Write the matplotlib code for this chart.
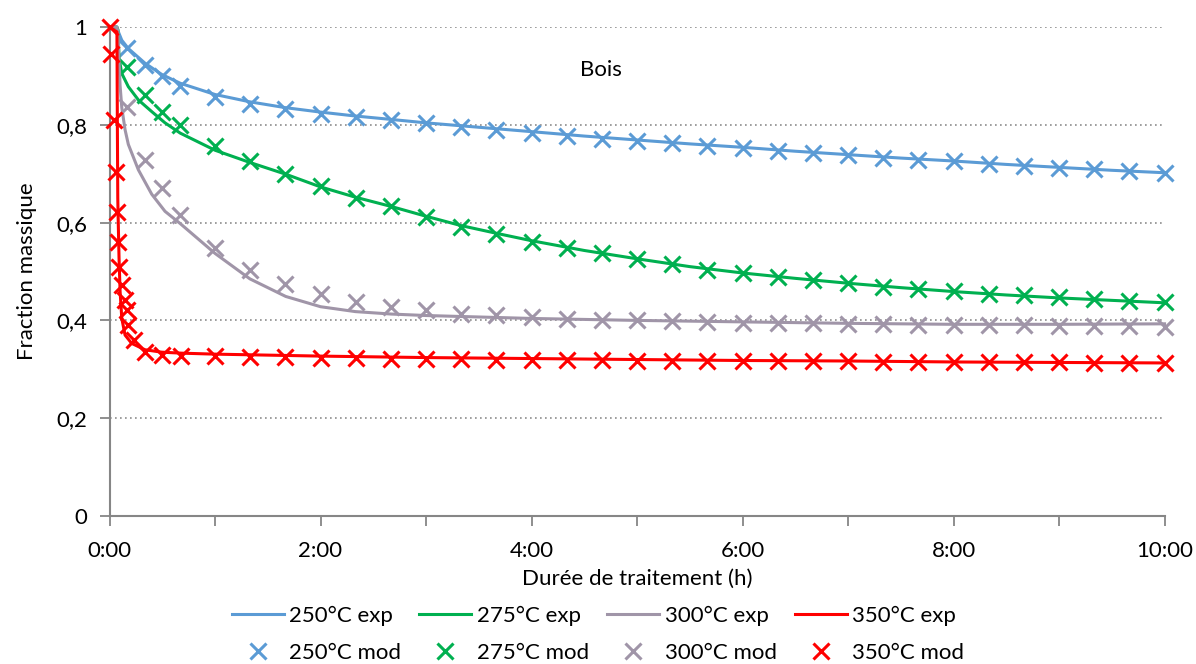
import matplotlib
matplotlib.use("Agg")
import matplotlib.pyplot as plt

plt.rcParams['font.family'] = ['Lato', 'DejaVu Sans']

# --- data (time in hours, mass fraction) ---
# "exp" curves
t_250_exp = [0, 0.065, 0.116, 0.178, 0.336, 0.495, 0.67, 1.0, 1.33, 1.67, 2.0, 2.33, 2.67, 3.0,
             3.5, 4.0, 4.5, 5.0, 5.5, 6.0, 6.5, 7.0, 7.5, 8.0, 8.5, 9.0, 9.5, 10.0]
y_250_exp = [1.0, 1.0, 0.973, 0.956, 0.926, 0.903, 0.885, 0.862, 0.847, 0.835, 0.826, 0.818, 0.811, 0.804,
             0.795, 0.786, 0.777, 0.769, 0.761, 0.754, 0.746, 0.739, 0.732, 0.726, 0.719, 0.713, 0.707, 0.702]

t_275_exp = [0, 0.07, 0.08, 0.09, 0.116, 0.178, 0.273, 0.40, 0.526, 0.67, 1.0, 1.33, 1.67, 2.0, 2.33, 2.67,
             3.0, 3.33, 3.67, 4.0, 4.5, 5.0, 5.5, 6.0, 6.5, 7.0, 7.5, 8.0, 8.5, 9.0, 9.5, 10.0]
y_275_exp = [1.0, 1.0, 0.994, 0.936, 0.905, 0.878, 0.851, 0.827, 0.804, 0.783, 0.748, 0.723, 0.699, 0.673, 0.652, 0.633,
             0.613, 0.594, 0.578, 0.563, 0.543, 0.526, 0.510, 0.497, 0.486, 0.476, 0.467, 0.459, 0.452, 0.446, 0.441, 0.436]

t_300_exp = [0, 0.07, 0.08, 0.09, 0.10, 0.116, 0.147, 0.178, 0.273, 0.40, 0.526, 0.67, 1.0, 1.33, 1.67, 2.0,
             2.33, 2.67, 3.0, 3.5, 4.0, 5.0, 6.0, 7.0, 8.0, 9.0, 10.0]
y_300_exp = [1.0, 1.0, 0.99, 0.93, 0.88, 0.835, 0.79, 0.76, 0.708, 0.658, 0.623, 0.598, 0.537, 0.485, 0.449, 0.428,
             0.418, 0.413, 0.410, 0.407, 0.404, 0.400, 0.397, 0.394, 0.392, 0.392, 0.393]

t_350_exp = [0, 0.07, 0.074, 0.078, 0.083, 0.09, 0.10, 0.116, 0.147, 0.21, 0.336, 0.495, 0.684, 1.0,
             2.0, 3.0, 4.0, 5.0, 6.0, 7.0, 8.0, 9.0, 10.0]
y_350_exp = [1.0, 0.99, 0.80, 0.65, 0.595, 0.527, 0.459, 0.404, 0.37, 0.353, 0.340, 0.335, 0.333, 0.331,
             0.327, 0.324, 0.322, 0.320, 0.318, 0.317, 0.315, 0.314, 0.313]

# "mod" points
t_mod = [1/6, 1/3, 1/2, 2/3, 1, 4/3, 5/3, 2, 7/3, 8/3, 3, 10/3, 11/3, 4, 13/3, 14/3, 5, 16/3, 17/3, 6,
         19/3, 20/3, 7, 22/3, 23/3, 8, 25/3, 26/3, 9, 28/3, 29/3, 10]
y_250_mod = [0.958, 0.922, 0.900, 0.880, 0.857, 0.843, 0.833, 0.823, 0.815, 0.810, 0.803, 0.795, 0.789, 0.784,
             0.777, 0.771, 0.767, 0.762, 0.756, 0.752, 0.747, 0.743, 0.738, 0.733, 0.728, 0.725, 0.720, 0.716,
             0.712, 0.709, 0.706, 0.701]
y_275_mod = [0.918, 0.860, 0.827, 0.800, 0.757, 0.727, 0.699, 0.675, 0.650, 0.633, 0.612, 0.592, 0.577, 0.561,
             0.549, 0.537, 0.525, 0.515, 0.504, 0.496, 0.488, 0.483, 0.476, 0.469, 0.464, 0.460, 0.455, 0.451,
             0.447, 0.444, 0.440, 0.438]
y_300_mod = [0.837, 0.728, 0.670, 0.616, 0.549, 0.504, 0.474, 0.454, 0.438, 0.428, 0.421, 0.414, 0.411, 0.406,
             0.403, 0.401, 0.400, 0.398, 0.396, 0.395, 0.394, 0.394, 0.393, 0.392, 0.391, 0.391, 0.390, 0.390,
             0.389, 0.389, 0.388, 0.387]

t_350_mod = [0, 0.014, 0.046, 0.058, 0.068, 0.083, 0.09, 0.116, 0.147, 0.163, 0.178, 0.235, 0.336, 0.495, 0.677,
             1, 4/3, 5/3, 2, 7/3, 8/3, 3, 10/3, 11/3, 4, 13/3, 14/3, 5, 16/3, 17/3, 6,
             19/3, 20/3, 7, 22/3, 23/3, 8, 25/3, 26/3, 9, 28/3, 29/3, 10]
y_350_mod = [1.0, 0.944, 0.81, 0.704, 0.622, 0.561, 0.51, 0.472, 0.442, 0.421, 0.391, 0.36, 0.336, 0.329, 0.328,
             0.327, 0.326, 0.325, 0.324, 0.323, 0.322, 0.321, 0.321, 0.320, 0.320, 0.319, 0.319, 0.318, 0.318,
             0.317, 0.317, 0.316, 0.316, 0.316, 0.315, 0.315, 0.315, 0.314, 0.314, 0.314, 0.313, 0.313, 0.313]

labels = ["250°C", "275°C", "300°C", "350°C"]
colors = ["#5B9BD5", "#00B050", "#A095A8", "#FF0000"]
x_ticks = [0, 1, 2, 3, 4, 5, 6, 7, 8, 9, 10]
x_ticklabels = ["0:00", "", "2:00", "", "4:00", "", "6:00", "", "8:00", "", "10:00"]
y_ticks = [0, 0.2, 0.4, 0.6, 0.8, 1.0]
y_ticklabels = ["0", "0,2", "0,4", "0,6", "0,8", "1"]

exp_t = [t_250_exp, t_275_exp, t_300_exp, t_350_exp]
exp_y = [y_250_exp, y_275_exp, y_300_exp, y_350_exp]
mod_t = [t_mod, t_mod, t_mod, t_350_mod]
mod_y = [y_250_mod, y_275_mod, y_300_mod, y_350_mod]

fs = 16

fig = plt.figure(figsize=(11.96, 6.64), dpi=100)
ax = fig.add_axes([0.0916, 0.2229, 0.8821, 0.7364])

axis_grey = "#868686"
for yv in y_ticks[1:]:
    ax.axhline(yv, color="#8C8C8C", lw=1.2, ls=(0, (1, 2)), zorder=0)

handles = []
for i in range(4):
    ln, = ax.plot(exp_t[i], exp_y[i], color=colors[i], lw=2.2, zorder=2 + i,
                  label=labels[i] + " exp", clip_on=False)
    handles.append(ln)
    mk, = ax.plot(mod_t[i], mod_y[i], ls="none", marker="x", ms=12, mew=2.2,
                  color=colors[i], zorder=2 + i, label=labels[i] + " mod", clip_on=False)
    handles.append(mk)

ax.set_xlim(0, 10)
ax.set_ylim(0, 1)
ax.set_xticks(x_ticks)
ax.set_xticklabels(x_ticklabels)
ax.set_yticks(y_ticks)
ax.set_yticklabels(y_ticklabels)
ax.tick_params(axis="both", direction="out", length=7, width=1.3, color=axis_grey,
               labelsize=fs, labelcolor="black")
ax.tick_params(axis="x", pad=11)
ax.tick_params(axis="y", pad=9)

for s in ["top", "right"]:
    ax.spines[s].set_visible(False)
for s in ["left", "bottom"]:
    ax.spines[s].set_color(axis_grey)
    ax.spines[s].set_linewidth(1.5)

ax.set_xlabel("Durée de traitement (h)", fontsize=fs, labelpad=6)
ax.set_ylabel("Fraction massique", fontsize=fs, labelpad=14)
ax.text(4.66, 0.912, "Bois", fontsize=fs, ha="center", va="center")

fig.legend(handles=handles, loc="center", bbox_to_anchor=(0.5, 0.045), ncol=4, frameon=False,
           fontsize=fs, handlelength=2.35, handletextpad=0.25, columnspacing=0.8, labelspacing=0.75,
           borderpad=0.1)

fig.savefig("out.png", dpi=100)
